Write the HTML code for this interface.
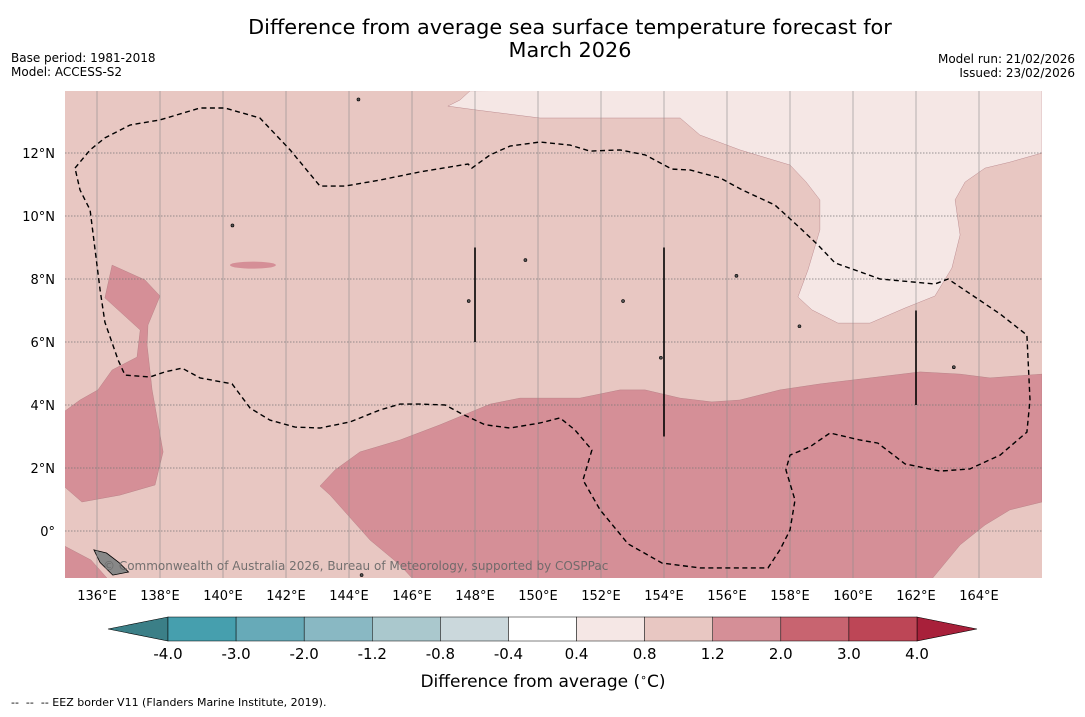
<!DOCTYPE html>
<html><head><meta charset="utf-8">
<style>
body{margin:0;background:#fff;font-family:"DejaVu Sans","Liberation Sans",sans-serif;}
svg text{font-family:"DejaVu Sans","Liberation Sans",sans-serif;}
</style></head>
<body>
<svg id="chart" width="1085" height="713" viewBox="0 0 1085 713" xmlns="http://www.w3.org/2000/svg">
<text x="570" y="34" font-size="20.8" text-anchor="middle">Difference from average sea surface temperature forecast for</text>
<text x="570" y="57" font-size="20.8" text-anchor="middle">March 2026</text>
<text x="11" y="62" font-size="12">Base period: 1981-2018</text>
<text x="11" y="76" font-size="12">Model: ACCESS-S2</text>
<text x="1075" y="63" font-size="12" text-anchor="end">Model run: 21/02/2026</text>
<text x="1075" y="77" font-size="12" text-anchor="end">Issued: 23/02/2026</text>
<g id="map"></g>
<g id="cbar"></g>
<text x="543" y="687" font-size="17" text-anchor="middle">Difference from average (<tspan baseline-shift="super" font-size="11">∘</tspan>C)</text>
<text x="11" y="706" font-size="11" xml:space="preserve">--  --  -- EEZ border V11 (Flanders Marine Institute, 2019).</text>
</svg>
<script>
const lonTicks=[136,138,140,142,144,146,148,150,152,154,156,158,160,162,164];
const latTicks=[0,2,4,6,8,10,12];
const cbarLevels=["-4.0","-3.0","-2.0","-1.2","-0.8","-0.4","0.4","0.8","1.2","2.0","3.0","4.0"];
const cbarColors=["#469fae","#67aab8","#89b8c3","#aac8cd","#cbd8dc","#ffffff","#f5e7e5","#e8c7c2","#d58f97","#c86470","#bd4656"];
const lightRegion=[[147.84,13.97],[147.52,13.68],[147.14,13.49],[148.0,13.37],[150.06,13.11],[154.51,13.11],[155.14,12.57],[156.41,12.10],[158.0,11.62],[158.51,11.08],[158.95,10.51],[158.95,9.56],[158.57,8.29],[158.25,7.43],[158.70,7.02],[159.52,6.60],[160.54,6.60],[161.65,7.08],[162.60,7.46],[163.14,8.35],[163.40,9.40],[163.24,10.51],[163.56,11.08],[164.19,11.52],[164.98,11.71],[166,12.0],[166,14.1]];
const southRegion=[[143.08,1.43],[143.56,1.94],[144.35,2.51],[145.62,2.89],[146.89,3.37],[148.48,4.03],[149.43,4.22],[151.33,4.22],[152.60,4.48],[153.40,4.48],[154.51,4.22],[155.52,4.10],[156.41,4.16],[157.68,4.48],[158.95,4.67],[160.54,4.86],[162.13,5.05],[163.40,4.98],[164.35,4.86],[166,4.98],[166,0.92],[164.98,0.67],[164.19,0.19],[163.40,-0.44],[162.44,-1.6],[146.10,-1.6],[145.62,-1.08],[144.67,-0.29],[143.40,1.14]];
const westRegion=[[134.9,3.75],[135.46,4.16],[136.03,4.48],[136.48,5.11],[137.27,5.52],[137.37,6.38],[136.25,7.40],[136.48,8.44],[137.52,7.97],[138.0,7.46],[137.62,6.54],[137.59,5.90],[137.75,4.48],[138.10,2.51],[137.84,1.46],[136.73,1.14],[135.52,0.92],[134.9,1.46]];
const cornerRegion=[[134.9,-0.44],[135.81,-0.92],[136.41,-1.6],[134.9,-1.6]];
const contour=[[135.30,11.52],[135.78,12.10],[136.25,12.48],[137.05,12.89],[138.0,13.05],[139.27,13.43],[140.06,13.43],[141.17,13.11],[142.13,12.10],[143.08,10.95],[143.87,10.95],[144.98,11.14],[146.25,11.40],[147.78,11.65],[147.90,11.52],[148.48,11.94],[149.11,12.22],[150.06,12.35],[151.02,12.25],[151.65,12.06],[152.60,12.10],[153.40,11.94],[154.25,11.49],[154.83,11.46],[155.78,11.21],[156.48,10.83],[157.52,10.35],[158.32,9.62],[158.89,9.08],[159.43,8.51],[160.86,8.0],[162.60,7.84],[163.02,8.0],[163.87,7.43],[164.67,6.89],[165.52,6.22],[165.62,4.16],[165.52,3.14],[164.67,2.41],[163.71,1.97],[162.76,1.90],[161.65,2.13],[160.79,2.79],[160.22,2.89],[159.27,3.11],[158.63,2.67],[158.0,2.41],[157.87,1.94],[158.16,0.98],[158.0,0.03],[157.68,-0.60],[157.30,-1.17],[155.14,-1.17],[153.94,-1.02],[152.86,-0.41],[151.97,0.67],[151.43,1.62],[151.71,2.57],[151.17,3.21],[150.70,3.59],[150.06,3.43],[149.11,3.27],[148.32,3.37],[147.52,3.75],[147.05,4.0],[146.25,4.03],[145.62,4.03],[144.98,3.84],[144.03,3.46],[143.08,3.27],[142.29,3.30],[141.49,3.52],[140.86,3.90],[140.29,4.67],[139.27,4.86],[138.70,5.17],[138.16,5.05],[137.68,4.89],[136.89,4.95],[136.67,5.43],[136.25,6.63],[136.10,7.65],[135.94,8.92],[135.78,10.19],[135.46,10.83],[135.30,11.52]];
const vLines=[[148,6,9],[154,3,9],[162,4,7]];

const NS="http://www.w3.org/2000/svg";
const X0=65,X1=1042,Y0=91,Y1=578;
const xS=lon=>97+(lon-136)*31.5;
const yS=lat=>531-lat*31.5;
function mk(tag,attrs,parent){const e=document.createElementNS(NS,tag);for(const k in attrs)e.setAttribute(k,attrs[k]);parent.appendChild(e);return e;}
const svg=document.getElementById('chart');
const map=document.getElementById('map');
const defs=mk('defs',{},svg);
const cp=mk('clipPath',{id:'mc'},defs);
mk('rect',{x:X0,y:Y0,width:X1-X0,height:Y1-Y0},cp);
const g=mk('g',{'clip-path':'url(#mc)'},map);
const bg=mk('rect',{x:X0,y:Y0,width:X1-X0,height:Y1-Y0,fill:'#e8c7c2'},g);


const pts=a=>a.map(p=>xS(p[0]).toFixed(1)+','+yS(p[1]).toFixed(1)).join(' ');
const regions=[[lightRegion,'#f5e7e5','anomaly-0.4-0.8-region'],[southRegion,'#d58f97','anomaly-1.2-2.0-south'],[westRegion,'#d58f97','anomaly-1.2-2.0-west'],[cornerRegion,'#d58f97','anomaly-1.2-2.0-corner']];
regions.forEach(r=>{const p=mk('polygon',{points:pts(r[0]),fill:r[1],stroke:'#b07a80','stroke-width':0.4},g);

});
const bl=mk('ellipse',{cx:xS(140.95),cy:yS(8.44),rx:23,ry:3.5,fill:'#d58f97'},g);


const land=mk('polygon',{points:pts([[135.9,-0.6],[136.3,-0.7],[136.7,-1.0],[137.0,-1.3],[136.5,-1.4],[136.1,-1.0]]),fill:'#888',stroke:'#000','stroke-width':0.8},g);


[[144.3,13.7],[140.3,9.7],[149.6,8.6],[152.7,7.3],[156.3,8.1],[158.3,6.5],[163.2,5.2],[147.8,7.3],[153.9,5.5],[144.4,-1.4]].forEach(p=>{const d=mk('circle',{cx:xS(p[0]),cy:yS(p[1]),r:1.5,fill:'#555',stroke:'#000','stroke-width':0.6},g);

});
lonTicks.forEach(l=>{const ln=mk('line',{x1:xS(l),x2:xS(l),y1:Y0,y2:Y1,stroke:'#8a8a8a','stroke-width':0.6},g);


const t=mk('text',{x:xS(l),y:600,'font-size':13,'text-anchor':'middle'},map);t.textContent=l+'°E';

});
latTicks.forEach(l=>{const ln=mk('line',{x1:X0,x2:X1,y1:yS(l),y2:yS(l),stroke:'#777','stroke-width':0.8,'stroke-dasharray':'1.5,1.5'},g);


const t=mk('text',{x:55,y:yS(l)+5,'font-size':13,'text-anchor':'end'},map);t.textContent=l===0?'0°':l+'°N';

});
const c=mk('polygon',{points:pts(contour),fill:'none',stroke:'#000','stroke-width':1.4,'stroke-dasharray':'5,3.5'},g);


vLines.forEach(v=>{const ln=mk('line',{x1:xS(v[0]),x2:xS(v[0]),y1:yS(v[2]),y2:yS(v[1]),stroke:'#000','stroke-width':1.6},g);

});
const cr=mk('text',{x:103,y:570,'font-size':12,fill:'#666','fill-opacity':0.9},g);cr.textContent='© Commonwealth of Australia 2026, Bureau of Meteorology, supported by COSPPac';


const cb=document.getElementById('cbar');
const CB0=168,CB1=917,CT=617,CH=24,n=cbarColors.length,w=(CB1-CB0)/n;
const la=mk('polygon',{points:`${CB0},${CT} ${108},${CT+CH/2} ${CB0},${CT+CH}`,fill:'#3b7f87',stroke:'#000','stroke-width':0.6},cb);


const ra=mk('polygon',{points:`${CB1},${CT} ${977},${CT+CH/2} ${CB1},${CT+CH}`,fill:'#a8203a',stroke:'#000','stroke-width':0.6},cb);


cbarColors.forEach((col,i)=>{const r=mk('rect',{x:CB0+i*w,y:CT,width:w,height:CH,fill:col,stroke:'#000','stroke-width':0.5},cb);

});
cbarLevels.forEach((lv,i)=>{const t=mk('text',{x:CB0+i*w,y:659,'font-size':15,'text-anchor':'middle'},cb);t.textContent=lv;

});
</script>
</body></html>
